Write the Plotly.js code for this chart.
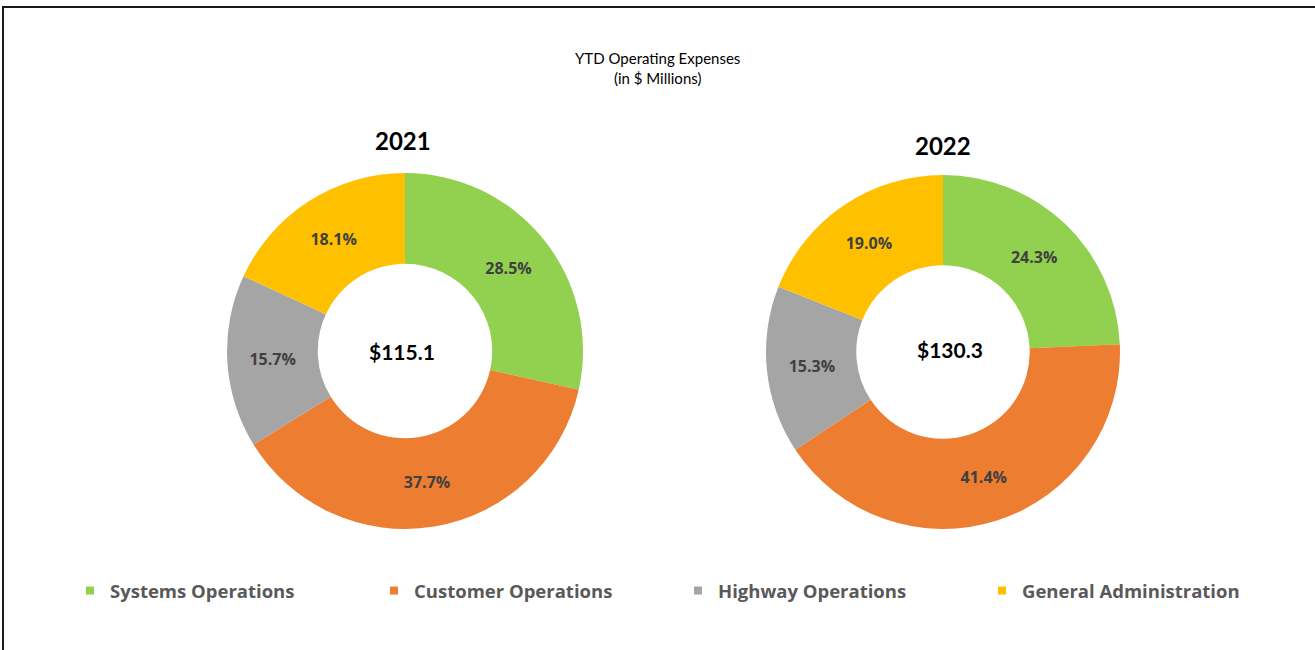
<!DOCTYPE html>
<html>
<head>
<meta charset="utf-8">
<script src="https://cdn.plot.ly/plotly-3.0.1.min.js"></script>
<style>
  html, body { margin: 0; padding: 0; background: #fff; }
  #chart { width: 1315px; height: 650px; }
</style>
</head>
<body>
<div id="chart"></div>
<script>
// ---- data ----
const categories = ["Systems Operations", "Customer Operations", "Highway Operations", "General Administration"];
const years = ["2021", "2022"];
const share2021 = [28.5, 37.7, 15.7, 18.1];
const share2022 = [24.3, 41.4, 15.3, 19.0];
const totals = ["$115.1", "$130.3"];
const colors = ["#92D050", "#ED7D31", "#A5A5A5", "#FFC000"];

const W = 1315, H = 650;
const fx = px => px / W;
const fy = py => (H - py) / H;

function donut(values, cx, cy, r, showlegend) {
  return {
    type: "pie",
    labels: categories,
    values: values,
    sort: false,
    direction: "clockwise",
    rotation: 0,
    hole: 0.49,
    marker: { colors: colors, line: { width: 0 } },
    texttemplate: "%{value:.1f}%",
    textposition: "inside",
    insidetextorientation: "horizontal",
    insidetextfont: { family: "Open Sans, sans-serif", size: 16, color: "#404040", weight: "bold" },
    showlegend: showlegend,
    hoverinfo: "label+value",
    domain: { x: [fx(cx - r), fx(cx + r)], y: [fy(cy + r), fy(cy - r)] }
  };
}

const traces = [
  donut(share2021, 405, 351, 178, true),
  donut(share2022, 943, 352, 177, false)
];

function note(text, px, py, size, bold) {
  return {
    text: bold ? "<b>" + text + "</b>" : text,
    x: fx(px), y: fy(py), xref: "paper", yref: "paper",
    xanchor: "center", yanchor: "middle", showarrow: false,
    font: { family: "Lato, sans-serif", size: size, color: "#000" }
  };
}

const layout = {
  width: W, height: H,
  margin: { l: 0, r: 0, t: 0, b: 0 },
  paper_bgcolor: "#fff",
  font: { family: "Lato, sans-serif", color: "#000" },
  showlegend: true,
  legend: {
    orientation: "h",
    x: fx(70), xanchor: "left",
    y: fy(591), yanchor: "middle",
    entrywidth: 259, entrywidthmode: "pixels",
    itemclick: false,
    font: { family: "Open Sans, sans-serif", size: 18.5, color: "#595959", weight: "bold" },
    traceorder: "normal"
  },
  annotations: [
    note("YTD Operating Expenses<br>(in $ Millions)", 657, 68, 15, false),
    note(years[0], 403, 141, 24, true),
    note(years[1], 943, 145, 24, true),
    note(totals[0], 402, 351, 21, true),
    note(totals[1], 950, 349, 21, true)
  ],
  shapes: [
    { type: "rect", xref: "paper", yref: "paper", x0: fx(3), x1: 1.05, y0: -0.05, y1: fy(7),
      line: { color: "#1a1a1a", width: 2 }, fillcolor: "rgba(0,0,0,0)" }
  ]
};

Plotly.newPlot("chart", traces, layout, { staticPlot: true, displayModeBar: false }).then(gd => {
  gd.querySelectorAll("path.legendpie").forEach(p => p.setAttribute("d", "M4,4H-4V-4H4Z"));
});
</script>
</body>
</html>
